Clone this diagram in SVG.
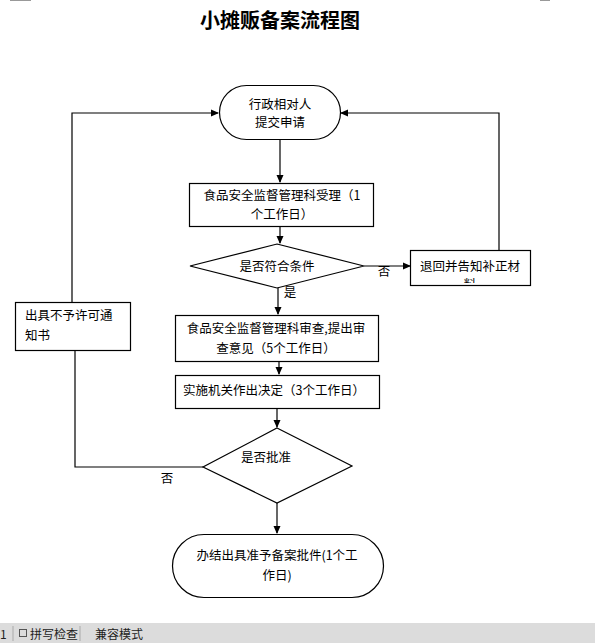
<svg xmlns="http://www.w3.org/2000/svg" width="595" height="643" viewBox="0 0 595 643">
<defs>
<style>
.t{font-family:"Noto Sans CJK SC","Liberation Sans",sans-serif;font-size:12.5px;fill:#000}
.c{text-anchor:middle}
.s{fill:#fff;stroke:#000;stroke-width:1.2}
.l{fill:none;stroke:#000;stroke-width:1.2}
</style>
<marker id="a" markerWidth="8" markerHeight="8" refX="7" refY="4" orient="auto" markerUnits="userSpaceOnUse">
<path d="M0,0.5 L8,4 L0,7.5 Z" fill="#000"/>
</marker>
<clipPath id="cp"><rect x="411" y="251" width="118" height="32"/></clipPath>
</defs>
<rect width="595" height="643" fill="#fff"/>
<line x1="10" y1="0.5" x2="31" y2="0.5" stroke="#999"/>
<line x1="540" y1="0.5" x2="550" y2="0.5" stroke="#999"/>
<text x="280" y="28" class="t c" style="font-size:20px;font-weight:bold">小摊贩备案流程图</text>

<g id="connectors">
<line x1="280" y1="139" x2="280" y2="182" class="l" marker-end="url(#a)"/>
<line x1="280" y1="226" x2="280" y2="243" class="l" marker-end="url(#a)"/>
<line x1="278" y1="287" x2="278" y2="314" class="l" marker-end="url(#a)"/>
<line x1="364" y1="266" x2="410" y2="266" class="l" marker-end="url(#a)"/>
<polyline points="499,250 499,113 341,113" class="l" marker-end="url(#a)"/>
<polyline points="72,302 72,113 218,113" class="l" marker-end="url(#a)"/>
<line x1="279" y1="361" x2="279" y2="374" class="l" marker-end="url(#a)"/>
<line x1="277" y1="408" x2="277" y2="427" class="l" marker-end="url(#a)"/>
<polyline points="203,467 75,467 75,351" class="l"/>
<line x1="277" y1="503" x2="277" y2="533" class="l" marker-end="url(#a)"/>
<text x="290" y="297" class="t c">是</text>
<text x="384" y="276" class="t c">否</text>
<text x="167" y="483" class="t c">否</text>
</g>

<g id="start">
<rect x="219.5" y="85.5" width="121" height="54" rx="27" class="s"/>
<text x="280" y="109" class="t c">行政相对人</text>
<text x="280" y="127" class="t c">提交申请</text>
</g>

<g id="accept">
<rect x="189.5" y="183.5" width="184" height="43" class="s"/>
<text x="282" y="200" class="t c">食品安全监督管理科受理（1</text>
<text x="282" y="219" class="t c">个工作日）</text>
</g>

<g id="check">
<polygon points="277,244 364,266 277,288 190,266" class="s"/>
<text x="277" y="271" class="t c">是否符合条件</text>
</g>

<g id="return">
<rect x="410.5" y="250.5" width="120" height="35" class="s"/>
<text x="470" y="271" class="t c">退回并告知补正材</text>
<text x="470" y="289" class="t c" clip-path="url(#cp)">料</text>
</g>

<g id="reject">
<rect x="15.5" y="302.5" width="115" height="48" class="s"/>
<text x="25" y="320" class="t">出具不予许可通</text>
<text x="25" y="340" class="t">知书</text>
</g>

<g id="review">
<rect x="175.5" y="315.5" width="203" height="46" class="s"/>
<text x="276" y="333" class="t c">食品安全监督管理科审查,提出审</text>
<text x="276" y="353" class="t c">查意见（5个工作日）</text>
</g>

<g id="decide">
<rect x="175.5" y="375.5" width="204" height="33" class="s"/>
<text x="183" y="395" class="t">实施机关作出决定（3个工作日）</text>
</g>

<g id="approve">
<polygon points="277,428 352,466 277,503 203,467" class="s"/>
<text x="266" y="462" class="t c">是否批准</text>
</g>

<g id="end">
<rect x="172.5" y="534.5" width="211" height="63" rx="31.5" class="s"/>
<text x="277" y="560" class="t c">办结出具准予备案批件(1个工</text>
<text x="277" y="580" class="t c">作日)</text>
</g>

<g id="statusbar">
<rect x="0" y="623" width="595" height="20" fill="#dcdcdc"/>
<text x="0" y="639" class="t" style="font-size:12px;fill:#222">1</text>
<line x1="13" y1="626" x2="13" y2="641" stroke="#aaa"/>
<rect x="19.5" y="629.5" width="7" height="7" fill="none" stroke="#555"/>
<text x="30" y="639" class="t" style="font-size:12px;fill:#222">拼写检查</text>
<line x1="80" y1="626" x2="80" y2="641" stroke="#aaa"/>
<text x="95" y="639" class="t" style="font-size:12px;fill:#222">兼容模式</text>
</g>
</svg>
